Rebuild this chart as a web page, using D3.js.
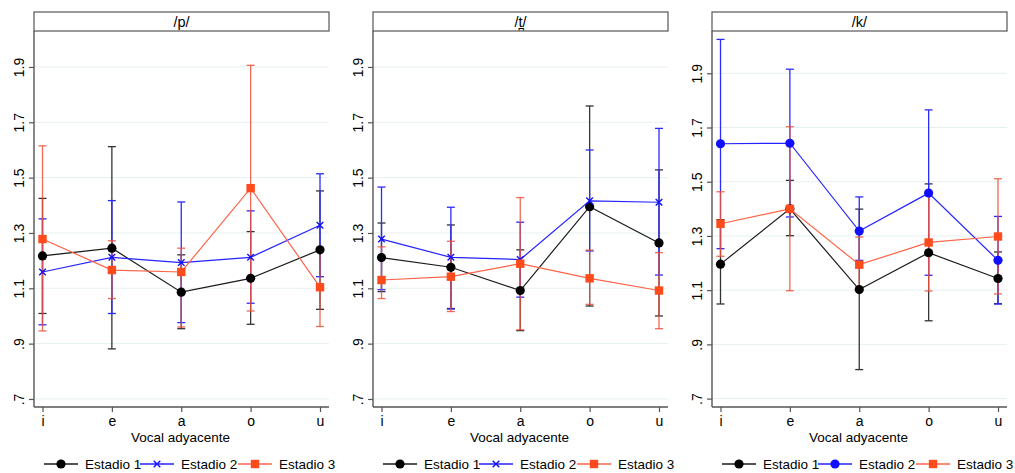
<!DOCTYPE html>
<html>
<head>
<meta charset="utf-8">
<script src="https://cdn.jsdelivr.net/npm/d3@7"></script>
<style>
  body { margin: 0; background: #fff; }
  text { font-family: "Liberation Sans", Arial, sans-serif; fill: #000; }
</style>
</head>
<body>
<svg width="1015" height="473"></svg>
<script>
// Data
var vowels = ["i", "e", "a", "o", "u"];
var seriesNames = ["Estadio 1", "Estadio 2", "Estadio 3"];
var panelTitles = ["/p/", "/t\u032A/", "/k/"];
var yTicks = [0.7, 0.9, 1.1, 1.3, 1.5, 1.7, 1.9];
var yTickLabels = [".7", ".9", "1.1", "1.3", "1.5", "1.7", "1.9"];

// means [panel][series][vowel]
var means = [
  [[1.217, 1.245, 1.086, 1.136, 1.239],
   [1.159, 1.212, 1.193, 1.212, 1.328],
   [1.278, 1.166, 1.159, 1.462, 1.104]],
  [[1.211, 1.176, 1.092, 1.395, 1.264],
   [1.278, 1.212, 1.204, 1.416, 1.411],
   [1.130, 1.142, 1.189, 1.136, 1.092]],
  [[1.196, 1.400, 1.102, 1.238, 1.143],
   [1.640, 1.642, 1.318, 1.458, 1.210],
   [1.345, 1.400, 1.194, 1.276, 1.298]]
];
var upper = [
  [[1.425, 1.612, 1.221, 1.305, 1.452],
   [1.351, 1.417, 1.412, 1.380, 1.514],
   [1.615, 1.272, 1.245, 1.906, 1.245]],
  [[1.336, 1.329, 1.239, 1.759, 1.528],
   [1.466, 1.393, 1.339, 1.600, 1.678],
   [1.250, 1.270, 1.428, 1.238, 1.229]],
  [[1.360, 1.505, 1.399, 1.492, 1.241],
   [2.025, 1.915, 1.444, 1.765, 1.372],
   [1.463, 1.703, 1.296, 1.450, 1.511]]
];
var lower = [
  [[1.009, 0.881, 0.954, 0.970, 1.024],
   [0.968, 1.009, 0.976, 1.046, 1.142],
   [0.946, 1.063, 0.960, 1.018, 0.962]],
  [[1.088, 1.027, 0.947, 1.036, 1.000],
   [1.095, 1.025, 1.068, 1.235, 1.148],
   [1.063, 1.016, 0.950, 1.042, 0.954]],
  [[1.049, 1.301, 0.807, 0.987, 1.050],
   [1.253, 1.370, 1.210, 1.155, 1.049],
   [1.225, 1.098, 1.100, 1.097, 1.086]]
];
var yDomains = [[0.671, 2.03], [0.671, 2.03], [0.669, 2.056]];

var lineColors = ["#1a1a1a", "#2323ff", "#ff6347"];
var barColors = ["#333333", "#2b2bff", "#f0503a"];
var markColors = ["#000000", "#1010ff", "#ff4a1c"];
var markerTypes = [["circle", "x", "square"], ["circle", "x", "square"], ["circle", "circleB", "square"]];

var svg = d3.select("svg");
var panelLeft = [34, 373, 712];
var panelWidth = 295;
var plotTop = 31, plotBottom = 407;
var fs = "13.5px";

function drawMarker(g, type, color, cx, cy) {
  if (type === "circle" || type === "circleB") {
    g.append("circle").attr("cx", cx).attr("cy", cy).attr("r", 4.6).attr("fill", color);
  } else if (type === "square") {
    g.append("rect").attr("x", cx - 4.2).attr("y", cy - 4.2).attr("width", 8.4).attr("height", 8.4).attr("fill", color);
  } else {
    var s = 3.3;
    g.append("path")
      .attr("d", "M" + (cx - s) + "," + (cy - s) + "L" + (cx + s) + "," + (cy + s) +
                 "M" + (cx - s) + "," + (cy + s) + "L" + (cx + s) + "," + (cy - s))
      .attr("stroke", color).attr("stroke-width", 1.4).attr("fill", "none");
  }
}

panelTitles.forEach(function(title, p) {
  var left = panelLeft[p], right = left + panelWidth;
  var g = svg.append("g");

  var x = d3.scalePoint().domain(vowels).range([left + 8.5, right - 9]);
  var y = d3.scaleLinear().domain(yDomains[p]).range([plotBottom, plotTop]);

  // grid
  g.selectAll(".grid").data(yTicks).enter().append("line")
    .attr("x1", left).attr("x2", right)
    .attr("y1", function(d) { return y(d); }).attr("y2", function(d) { return y(d); })
    .attr("stroke", "#e6f0f1").attr("stroke-width", 1);

  // header
  g.append("rect").attr("x", left).attr("y", 12).attr("width", panelWidth).attr("height", 19)
    .attr("fill", "#fff").attr("stroke", "#555").attr("stroke-width", 1.2);
  g.append("text").attr("x", left + panelWidth / 2).attr("y", 27)
    .attr("text-anchor", "middle").style("font-size", "14.5px").text(title);

  // y axis
  var ya = g.append("g").attr("transform", "translate(" + left + ",0)")
    .call(d3.axisLeft(y).tickValues(yTicks).tickSize(5).tickPadding(9)
      .tickFormat(function(d, i) { return yTickLabels[i]; }));
  ya.select(".domain").attr("d", "M0," + plotTop + "V" + plotBottom).attr("stroke", "#555").attr("stroke-width", 1.4);
  ya.selectAll(".tick line").attr("stroke", "#555").attr("stroke-width", 1.2);
  ya.selectAll(".tick text")
    .attr("transform", "rotate(-90,-15,0)")
    .attr("x", -15).attr("y", 0).attr("dy", "0.35em")
    .attr("text-anchor", "middle")
    .style("font-size", "14px").style("font-family", "Liberation Sans, Arial, sans-serif").attr("fill", "#000");

  // x axis
  var xa = g.append("g").attr("transform", "translate(0," + plotBottom + ")")
    .call(d3.axisBottom(x).tickSize(5).tickPadding(4));
  xa.select(".domain").attr("d", "M" + left + ",0H" + right).attr("stroke", "#555").attr("stroke-width", 1.4);
  xa.selectAll(".tick line").attr("stroke", "#555").attr("stroke-width", 1.2);
  xa.selectAll(".tick text").style("font-size", "14px")
    .style("font-family", "Liberation Sans, Arial, sans-serif").attr("fill", "#000");

  g.append("text").attr("x", left + panelWidth / 2 - 1).attr("y", 442)
    .attr("text-anchor", "middle").style("font-size", fs).text("Vocal adyacente");

  // error bars
  seriesNames.forEach(function(s, k) {
    vowels.forEach(function(v, j) {
      var cx = x(v), y1 = y(upper[p][k][j]), y2 = y(lower[p][k][j]);
      var col = barColors[k];
      var op = k === 2 ? 0.85 : 1;
      g.append("line").attr("x1", cx).attr("x2", cx).attr("y1", y1).attr("y2", y2)
        .attr("stroke", col).attr("stroke-width", 1.3).attr("opacity", op);
      [y1, y2].forEach(function(yy) {
        g.append("line").attr("x1", cx - 4).attr("x2", cx + 4).attr("y1", yy).attr("y2", yy)
          .attr("stroke", col).attr("stroke-width", 1.3).attr("opacity", op);
      });
    });
  });

  // lines and markers
  var line = d3.line().x(function(d, j) { return x(vowels[j]); }).y(function(d) { return y(d); });
  seriesNames.forEach(function(s, k) {
    g.append("path").datum(means[p][k]).attr("d", line)
      .attr("fill", "none").attr("stroke", lineColors[k]).attr("stroke-width", 1.2);
  });
  seriesNames.forEach(function(s, k) {
    means[p][k].forEach(function(d, j) {
      drawMarker(g, markerTypes[p][k], markColors[k], x(vowels[j]), y(d));
    });
  });

  // legend
  var legX = left + 10, legY = 464;
  var offs = [0, 96, 194];
  seriesNames.forEach(function(s, k) {
    var lx = legX + offs[k];
    g.append("line").attr("x1", lx).attr("x2", lx + 34).attr("y1", legY).attr("y2", legY)
      .attr("stroke", lineColors[k]).attr("stroke-width", 1.3);
    drawMarker(g, markerTypes[p][k], markColors[k], lx + 17, legY);
    g.append("text").attr("x", lx + 41).attr("y", legY + 4.5)
      .style("font-size", fs).text(s);
  });
});
</script>
</body>
</html>
